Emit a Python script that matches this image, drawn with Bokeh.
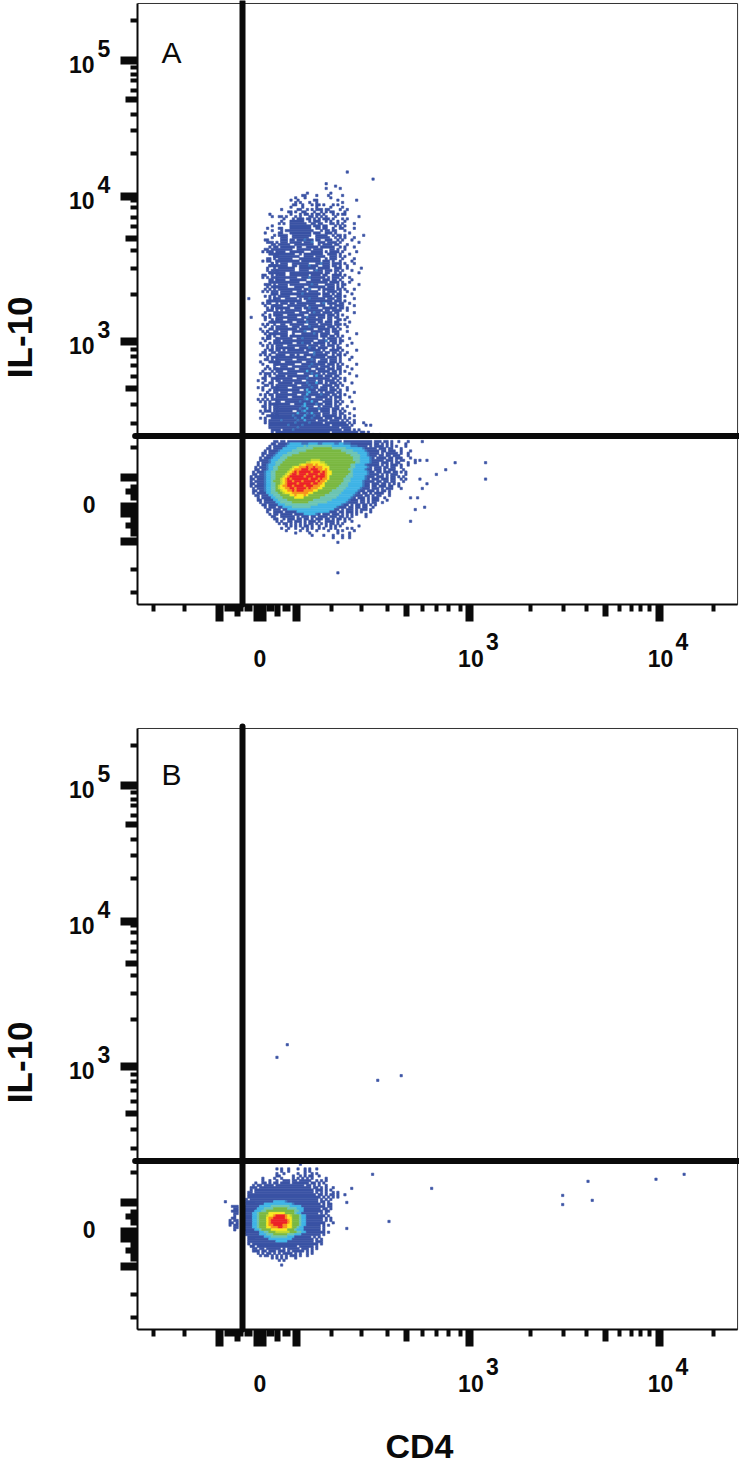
from bokeh.plotting import figure
from bokeh.layouts import column
from bokeh.models import ColumnDataSource, FixedTicker, Label, LinearAxis
from bokeh.embed import file_html
from bokeh.resources import INLINE

# All positions are instrument channels (0-256 display bins on both axes).
X_TICKS_LONG = [35.0, 51.2, 53.3, 68.0, 141.8, 222.7]
X_TICKS_MID = [42.8, 59.9, 114.8, 199.7]
X_TICKS_SHORT = [7.0, 19.9, 38.0, 39.7, 41.4, 44.4, 46.5, 48.2, 55.9, 57.6, 62.7, 64.4, 82.8, 95.7, 106.7,
                 121.7, 127.6, 132.8, 137.8, 167.8, 181.7, 191.7, 205.6, 210.6, 214.6, 218.6, 245.7]
Y_TICKS_LONG = [232.1, 174.2, 112.1, 54.0, 42.0, 39.0, 26.9]
Y_TICKS_MID = [215.3, 156.1, 92.0, 48.2, 33.9]
Y_TICKS_SHORT = [249.3, 229.2, 226.2, 223.4, 219.3, 209.2, 202.3, 192.3, 172.4, 169.2, 165.2, 161.3, 151.2,
                 143.2, 132.3, 108.8, 105.9, 102.0, 97.1, 85.2, 77.1, 67.0, 50.3, 48.6, 46.9, 45.2, 36.7,
                 35.0, 33.3, 31.6, 29.9, 14.9, 5.1]
X_ZERO = 52.2
X_DECADES = [(141.8, "3"), (222.7, "4")]
Y_ZERO = 41.0
Y_DECADES = [(232.1, "5"), (174.2, "4"), (112.1, "3")]
GATE_X = 44.8
GATE_Y = 71.9
CHANNEL_MAX_X = 256.0
CHANNEL_MAX_Y = 256.4
X_NAME = "CD4"
Y_NAME = "IL-10"
X_NAME_AT = 120.3
Y_NAME_AT = 114.0

# Density level per channel, one string per y channel, top to bottom.
A_COL = 46
A_PLUME_TOP = 184
A_PLUME = [
"...........................................1",
"",
"",
"......................................................1",
"",
"..................................1",
"......................................1",
"..................................1.....1",
"",
"..........................1.........1",
"........................11....1....1.....1",
".....................1...1..........1",
"...................1..1......11........1.......1",
".....................1.1...1..1..........1",
"....................11..1...1.11.1...1.1",
"...................1....1.....1.....1....1",
"...............1......11..1.1.111.11....1..1",
"..................11.1..11...1..1.1.11....1",
"..........1........1...1.11.1.11.1...1.1.11",
"...........1..11.1...1.1...11.1.1.1...1.........1",
"................1...1.111.11.1.1.111.1...1.1",
"...............1...111111..1.111..1.1..1..1",
"..............1.1..1111111..11.11...11.1.1....1",
"...........1.......111111111.111.11...1.1.1",
".........1....11...111111111..11.11..1..11....1",
"...........1...1.111111111111...1.11.11...1",
"........1.....11...111111111.111..111.1.....1",
"............1.1111..11111111..11111..1.11.1.......1",
"...........1...111..1111111...111111..1.1.1...1",
"........11.....111.11.1112111.11..111..1.1...1",
".........1.....111.11111.1112..111.1111.1.......1",
"...........1..11111..11111111..1.1111.11...1",
"...............111111.11..11111.111111..1.1...1",
"........11...1111111..111111.1111...11.1..1",
".......1..1...111..111111...11111.1.1111.1.....1",
"............111111111..1.11111111..1111.1...1",
"............11111111111..1111.1111..111.1.1",
".........1....111111...111111111..1.111..1....1",
".......1.....1111111111.11111111.111.1..1....1",
"...........1...111..1111111...112111.1111.1...1",
"..........1.111111..11.11112111..111.11.1..1",
".........1....1111111..1111111.11111..111..1.....1",
"...........1.11111111..1111..1211.111.11.1...1",
"..........1.11111..11111111111111.11..1.1.......1",
".......11.....111..11111111.1111.11..1111.1",
".......1.....111111111..1112111111.1.111.1..1",
"...........1.1111..1111111..1111.111.11.1....1",
"..........1..1111111111...111111111.1111.1..1",
"........1.....1111.111111111211...1111.1.11.....1",
".........1.1111111...1111..1111111.111.1.1",
"........1.....1111111111.112...1.11111.11.1...1",
".......1...1.1.11111..1111.1111..1.1111.1..1",
"...........1...11111111121111111.111.1.11....1",
"........1.....11111...111111111..1111.111.1",
".1........1.111..11111.1.112111111.111.11.....1",
"...........1..1111111111..11111111111.111.1",
".......1.1.....111.11.11111111..12.1111.11..1",
"........1...1111..11111111.1111111..1.1111....1",
"...........1.111111..111.112111..111111.11.1",
".........1.....1.1111111..1111111.11.1111..1",
"........1.....1111111..1111.1211.1111.11......1",
".......1.....111..1111111..1111111.111.1.1",
"..1.....1.....11111111..112111.111.11.11...1",
"........1....111..1111111.1111111..11..11.1",
"...........1.1111111..11112111.11.111.11....1",
".......1.1.....11..111111..1111.11111.111.1",
"........1.....1111..111.1112111111.111.1...1",
"......1.......11111111.111111..11111.11.1",
".......1.1.....111..111112..11111.11.111...1",
"........1.1.111111..1...1111121.1111..11.......1",
".........1.....111.111111111111.111.11.1.1",
".......1.1...1111111..112111111..1.1111.1...1",
"........1.....1.1111111111111..1112.111.11",
"......1.......111111..112111.11111.1.11.1....1",
".......1.....111..11111111.1111.11.111.1...1",
".........1....1111111..1111211.1111..1.11",
"........1.....1.1.1111111.111111.1..1111.1.....1",
".......1......1111111111111..2111.11.11.1..1",
"......1.1.....111..11.1..1111211111..1.11.1",
".........1....111111111111..111111.1111.1....1",
"........1....1111111..11111121..111.111.1...1",
"......1.....111..1111111..1111.1111.111.1",
".......1.....11111111...1111211111.111.1.1.....1",
".........1.....111..11111112111.1111.1.11..1",
"........1....11111111..11111..1111.111.11....1",
".......1......11..111111113111.11111.11.1.1",
"......1.1.....11111111...1112111.1.1111.1...1",
"........1.....111.111111111..1311.111.11.......1",
".......1.....1111111..11112111111111.11.1.1",
".....1..1.....1.11111111..1111.11.1111.1..1",
".......1......111111.111112111311.1.111.1....1",
"........1.....11111111..1112111..1111.11.1",
".....1.1.....11111..11111111211.111.11.1...1",
".......1.....1111111111..13111.1111.111.1..1",
".........1.....111..11111123111.1.1111.11.....1",
"......1.1.....11111111..113111112111.11.1.1",
"........1.....1111..11111211..11111.1.111...1",
".....1.1.....11111111111123111111.111.1.1",
"......1.1....11..11111121111311..1111.11.1...1",
"........1.1.1111111..111131111211.111.1.1",
".......1.....1111111111123111..1.1111.11...1",
"........1.....1111111112113111121111.111.1....1",
"......1.1....1111111..112311111.1111.11.1.1",
".......1....11111111113111213111.111.11.11..1",
".........1.111111111211113111211.111111.1.1...1",
"......1.1..1111111111211311121111.111.111.1.1",
"........1.11111211111121131111.1111.1111.1.1..1",
"........1.11111111111211111211111.111111111.1.1...1",
"..........11111111211111211111111111.1111111.1.....1.1",
"..........111111111111211111111111111111.1111",
"...........1111.1111211111111111111111111.111.1.1",
"...........1.11111111111111111111111.11111111111.11.1",
"............11111.11111111111111111111111.11111111.1..1..1",
"............11111.11111111111111111111111.11111111.1..1",
]
A_FRINGE_TOP = 154
A_FRINGE = [
"..........11.1", "............1.", "..........1.11", "...........11.", ".........1.1.1", "..........11.1",
"............11", "..........1.1.", ".........11..1", "...........1.1", "..........111.", "............1.",
".........1..11", "..........11..", "...........1.1", ".........1.11.", "..........1..1", "...........11.",
".........11.1.", "............11", "..........1.1.", ".........1..1.", "...........111", "..........1.1.",
"............1.", ".........11.11", "..........1..1", "...........11.", ".........1.1.1", "..........11.1",
"............11", "..........1.1.", "........1.1..1", "...........1.1", "..........111.", ".........1..1.",
"...........1.1", "..........11.1", ".........1..11", "...........11.", "..........1.1.", ".........11..1",
"............11", "..........1.11", ".........1.1..", "...........1.1", "..........11.1", "........1..11.",
"..........1..1", "...........111", ".........1.1.1", "..........11..", "............11", ".........1..1.",
"..........1.11", "...........1.1", ".........11.1.", "..........1..1", "........1..111", "...........1.1",
"..........11..", ".........1.1.1", "...........111", "..........1.1.", ".........1..11", "..........11.1",
"...........1.1", ".........1.11.", "..........1..1", "...........11.", "........1.1.11", "..........1.11",
".........11.1.", "...........1.1", "..........11.1",
]
A_BLOB_TOP = 69
A_BLOB = [
"............11.11.11111111111111111111111.111111111111.111.11.1..1...1.....1",
"........... 11.1111 2 333332 22333322 33333 22 3322 2 111111111.11.1.1.1.....1",
".......... 1.11111 2 3333333 4344444 4444 433333333 22 2 1111.1.1111.1.1.1...1",
"......... 11.1111 333333 4444444 55555555 444444 33333332 11111.111.11 ...1",
"........ 1.1111 233333 444444 555555555555555 44444 333332 11111.11.111 ..1...1",
"....... 11.111 23333 44444 55555555555555555555 44444 33332 1111.1.11111 .1..1",
"....... 1.111 2333 44445 555555555555555555555555 4444 3332 111.11.11.111 ...1",
"...... 1.111 2333 4445 555555555555555555555555555 444 33332 1.1111.11.111 ...1",
"...... 1111 2333 4445 5555555555 6666 55555555555555 444 33332 11111.111.1.11 ....1",
"..... 1.111 233 4445 555555555 66 7777 66 5555555555555 44 33332 111.111.1.11 ...1..1",
"..... 1.11 2333 445 55555556 7 78887877 7 6 5555555555 44 33332 11111.1.1.111 .1..1",
".... 1.111 233 445 555556 77 888 9889 8887 77 555555555 44 333332 1.111.11.11 ..1",
".... 11.11 233 445 55556 7 88 899989998 878 7 55555555 44 333332 11.111.1.111 ...1",
"... 1.111 233 445 55556 7 8 9899999899989 87 7 55555555 4 3333332 11.11.111.11 .1.1",
"... 11.11 233 445 5556 7 8 99899989999899 87 7 5555555 44 3333332 1111.1.1.111 ...1",
".. 1.1111 233 44 5556 7 8 999999899989999 8 7 5555555 444 333332 111.111.1.11 .1.1",
".. 11.111 23 344 556 7 8 989999999899989 88 7 555555 444 3333332 1.111.111.11 ..1.1",
".. 1.1111 23 34 5556 7 8 99899989999989 88 7 5555555 444 333332 1111.11.11.11 ...1",
".. 11.111 23 344 556 7 8 9999899999899 88 7 5555555 444 3333332 11.111.11.1 .1.1",
".. 1.1111 23 344 56 7 88 99899998999 888 77 555555 4444 3333332 11.11.111.11 ..1",
"... 1.111 23 344 56 77 88 998999989 888 77 555555 4444 3333332 111.111.1.111 ...1",
"... 11.11 233 44 556 77 88 989998 888 77 555555 44444 3333332 11.111.1.11 .1",
"... 1.1111 33 444 556 777 8888888 77 5555555 44444 3333332 1.11.1.1111 ..1",
".... 11.111 33 444 5555 77877787 5555555 444444 3333332 111.11.1.11 ...1",
"..... 1.1111 33 444 55555 7777 5555555 4444444 3333332 1.111.1.111 ..1",
"..... 11.1111 33 4444 55555555555 44444444 33333332 111.11.1.111 ...1",
"...... 1.11111 33 44444 5555555 44444444 333333332 1111.11.1.11 ..1",
"....... 11.1111 333 44444444444444 33333333332 11.1.11.11.1 .1",
"........ 1.111.11 3333 44444444 333333333332 111.11.11.11 ..1",
"......... 11.111.11 33333333333333333333 11.1.111.1.111 .1",
"......... 1..1111.11111 33333333333333 111.11.111.1.1. ..1",
".......... 1.11.11111.1111 333332 1.111.111.1.1.1.1...1",
"...........11..111111.1.111.11.1111.111.11.1.1.....1",
"............11..1.111.11.11.1.111.11.1.11.1.1",
".............1.1..11.111.1.111.1..1111.1..1..1",
"..............1.11.1.1.1.1.11.1.1.1.11.1.1",
".................1.1.1.1.11.1..1..1.1.1.1.......1",
"...............1..1..1..1.1.1..1.1..1.1....1.1",
".................1.....1..1...1....1...1.1....1",
".....................1.....1...........1....1",
"............................1....1...1...1..1",
".....................................1...1..1",
"",
".......................................1",
]
A_STRAY_X = [135, 148, 131, 127, 148, 121, 123, 120, 120, 123, 122, 118, 116, 116, 119, 85]
A_STRAY_Y = [60, 60, 57, 55, 53, 49, 51, 53, 61, 61, 41, 40, 35, 45, 45, 13]

B_TOP = 71
B_COL = 36
B_DENSITY = [
".................................1................1",
".................................1",
"",
".......................1.1..1...1..1.1..1",
".........................1..1......1.1",
".......................1..1.....1..1..1.1",
".......................11.....1..1.1.11..1",
".................1....1..1....1.1.1.1.1.....1",
".................1..1..1..111.11.11111..1.1.1",
"..............1..11.1.11.1111.1111111.11.1.1",
".............1.11.1111.111111111111.11.1.1..1",
"............111.1111111111111111111111.11.1.1..1",
"............1.1111111111111111111111111.111.1.1",
"...........11.1111111111111111111111111.1.1.1..1.1",
"...........11111111111111111111111111111.11.1.11.1..1",
"...........1111111111111111111111111111111.1.1.1.1",
"..........1.11111111111111111111111111111.1.1.1",
".1........111111111111 333332 1111111111111.11 .1",
"..........11111111 3333333333332 11111111111.1.1 1",
"....111..1111111 33333 44444444 33333 1111111111.11",
".....11..111111 333 4444 555555 4444 333 1111111.11.1",
"....111..11111 333 44 555555555555 44 33 11111111.11",
".....11..1111 33 4 5555 7777777 5555 4 33 1111111.1.1",
".....1...1111 33 4 555 6 77 8 9999 8 7 6 555 4 33 11111111.1",
"....11...1111 33 4 555 7 88 99999 8 77 555 4 33 1111111.1.1",
"...1.11..1111 33 4 555 7 8 9999999 8 7 555 4 33 1111111.1.1",
"...11.1..1111 33 4 555 7 8 9999999 8 7 555 4 33 11111111. ..1",
"...1.11..1111 33 4 555 7 8 899998 8 77 555 4 33 111111.1.1",
".....11..1111 33 4 555 77 888 99 88 77 55 4 33 1111111.1",
".....1...11111 33 4 5555 7777777 555 4 333 1111111.1",
"..........1111 11 33 44 555 666666 555 44 33 11111111.1",
"..........111111 333 444 555555 444 333 11111111.1",
"...........1111111 333 4444444 333 1111111.1.1",
"...........111111111 3333333333 111111111.1.1",
"...........111111111111 33333 11111111111.111",
"...........1.1111111111111111111111111111.1",
"............11.11111111111111111.111111.1",
".............11.11.111111.1.11111.111.1.1",
".............111.11.111.111.1.11111.1.1",
"...............1.1.11.1.1.1111.1.1..1.1",
"................1.11.1.1.1.1.111.1..1",
".....................1.1.1.1...1",
"........................1.1",
"",
".........................1",
]
B_STRAY_X = [112.0, 102.0, 99.8, 125.0, 106.8, 90.9, 191.7, 220.7, 232.7, 180.9, 180.9, 193.5, 59.0, 63.4, 88.8, 88.8]
B_STRAY_Y = [107.8, 105.8, 65.7, 59.7, 45.6, 59.7, 62.7, 63.6, 65.7, 56.7, 52.8, 54.6, 115.6, 121.0, 53.7, 42.6]

PALETTE = {"1": "#3a53a4", "2": "#3a78c0", "3": "#3fb4e6", "4": "#6cc5b4", "5": "#7bb842",
           "6": "#c2d82f", "7": "#f9e91f", "8": "#f7941d", "9": "#ec2227"}
INK = "#0a0a0a"
PX = 2.344  # screen pixels per channel


def density_source(blocks, col0, stray_x, stray_y):
    left, right, bottom, color = [], [], [], []
    for rows, top in blocks:
        for i, raw in enumerate(rows):
            row = raw.replace(" ", "")
            j = 0
            while j < len(row):
                k = j
                while k < len(row) and row[k] == row[j]:
                    k += 1
                if row[j] != ".":
                    left.append(col0 + j)
                    right.append(col0 + k)
                    bottom.append(top - i)
                    color.append(PALETTE[row[j]])
                j = k
    for x, y in zip(stray_x, stray_y):
        left.append(x)
        right.append(x + 1)
        bottom.append(y)
        color.append(PALETTE["1"])
    return ColumnDataSource(dict(left=left, right=right, bottom=bottom,
                                 top=[b + 1 for b in bottom], color=color))


def style_axis(axis, ticks, out, width):
    axis.fixed_location = 0
    axis.ticker = FixedTicker(ticks=ticks)
    axis.major_tick_in = 0
    axis.major_tick_out = out
    axis.major_tick_line_width = width
    axis.major_tick_line_color = INK
    axis.minor_tick_line_color = None
    axis.major_label_overrides = {t: "" for t in ticks}
    axis.major_label_standoff = 0
    axis.axis_line_color = None


def label(p, text, x, y, dx, dy, size, align="left", weight="bold", angle=0):
    p.add_layout(Label(x=x, y=y, x_offset=dx, y_offset=dy, text=text, text_font="Liberation Sans",
                       text_font_size=size, text_font_style=weight, text_color=INK, angle=angle,
                       angle_units="deg", text_align=align, text_baseline="alphabetic"))


def panel(letter, letter_y, blocks, col0, stray_x, stray_y, above_px, below_px, with_x_name):
    p = figure(frame_width=739, frame_height=above_px + below_px,
               x_range=(-137 / PX, 602 / PX), y_range=(-below_px / PX, above_px / PX),
               output_backend="svg", toolbar_location=None, min_border=0,
               background_fill_color="white", border_fill_color="white", outline_line_color=None)
    p.grid.visible = False
    p.quad(left="left", right="right", bottom="bottom", top="top",
           source=density_source(blocks, col0, stray_x, stray_y),
           fill_color="color", line_color="color", line_width=0.6)
    p.line([0, CHANNEL_MAX_X, CHANNEL_MAX_X, 0], [0, 0, CHANNEL_MAX_Y, CHANNEL_MAX_Y],
           line_color="#333333", line_width=1)
    p.line([0, 0], [CHANNEL_MAX_Y, 0], line_color=INK, line_width=2)
    p.line([0, CHANNEL_MAX_X], [0, 0], line_color=INK, line_width=2)

    style_axis(p.xaxis[0], X_TICKS_SHORT, 7, 4)
    style_axis(p.yaxis[0], Y_TICKS_SHORT, 7, 4)
    for ticks, out, width in ((X_TICKS_MID, 12, 6), (X_TICKS_LONG, 17, 8)):
        ax = LinearAxis()
        style_axis(ax, ticks, out, width)
        p.add_layout(ax, "below")
    for ticks, out, width in ((Y_TICKS_MID, 12, 6), (Y_TICKS_LONG, 17, 8)):
        ax = LinearAxis()
        style_axis(ax, ticks, out, width)
        p.add_layout(ax, "left")

    p.line([GATE_X, GATE_X], [0, CHANNEL_MAX_Y + 0.8], line_color=INK, line_width=6, line_cap="round")
    p.line([-1, CHANNEL_MAX_X + 0.8], [GATE_Y, GATE_Y], line_color=INK, line_width=6, line_cap="round")

    label(p, "0", X_ZERO, 0, 0, -54, "23px", "center")
    for pos, power in X_DECADES:
        label(p, "10", pos, 0, 1, -54, "23px", "center")
        label(p, power, pos, 0, 16, -37, "23px")
    label(p, "0", 0, Y_ZERO, -42, 4, "23px", "right")
    for pos, power in Y_DECADES:
        label(p, "10", 0, pos, -43, -4, "23px", "right")
        label(p, power, 0, pos, -40, 12, "23px")
    label(p, letter, 10.2, letter_y, 0, 11, "30px", "left", "normal")
    label(p, Y_NAME, 0, Y_NAME_AT, -118, 0, "35px", "center", "bold", 90)
    if with_x_name:
        label(p, X_NAME, X_NAME_AT, 0, 0, -116, "34px", "center")
    return p


pA = panel("A", 230.8, [(A_PLUME, A_PLUME_TOP), (A_FRINGE, A_FRINGE_TOP), (A_BLOB, A_BLOB_TOP)],
           A_COL, A_STRAY_X, A_STRAY_Y, 604, 118, False)
pB = panel("B", 232.0, [(B_DENSITY, B_TOP)], B_COL, B_STRAY_X, B_STRAY_Y, 607, 136, True)
page = column(pA, pB)
open("out.html", "w").write(file_html(page, INLINE))
